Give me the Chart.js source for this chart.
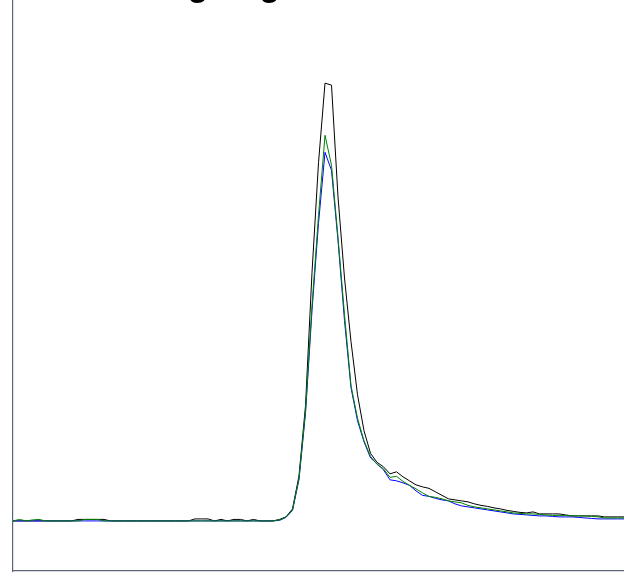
<!DOCTYPE html>
<html>
<head>
<meta charset="utf-8">
<script src="https://cdn.jsdelivr.net/npm/chart.js@4"></script>
<style>
	html, body { margin:0; padding:0; background:#fff; overflow:hidden; }
	#wrap { width:624px; height:574px; position:relative; }
</style>
</head>
<body>
<div id="wrap"><canvas id="grafica"></canvas></div>
<script>
	let titulo = "Log Log Plot";

	let muestras = [];
	for(var i = 0; i < 95; i++) muestras.push(i);

	let serieNegra = [
		0, 0, 0, 0, 0, 0, 0, 0, 0, 0,
		0.3, 0.3, 0.3, 0.3, 0.3, 0, 0, 0, 0, 0,
		0, 0, 0, 0, 0, 0, 0, 0, 0.4, 0.4,
		0.4, 0, 0.3, 0, 0.3, 0.3, 0, 0.3, 0, 0,
		0, 0.3, 0.8, 2.4, 9, 23, 49.6, 71.5, 87.4, 87,
		64.7, 48.5, 35.8, 25.2, 18, 13.5, 11.7, 10.8, 9.4, 9.8,
		8.8, 8, 7.2, 6.8, 6.5, 5.8, 5.1, 4.4, 4.2, 4,
		3.8, 3.4, 3.1, 2.9, 2.6, 2.4, 2.1, 1.9, 1.7, 1.6,
		1.8, 1.4, 1.4, 1.4, 1.4, 1.2, 1, 1, 1, 1,
		1, 0.8, 0.8, 0.8, 0.8
	];

	let serieVerde = [
		0, 0.3, 0, 0.2, 0.3, 0, 0, 0, 0, 0,
		0, 0.3, 0.3, 0.3, 0, 0, 0, 0, 0, 0,
		0, 0, 0, 0, 0, 0, 0, 0, 0, 0,
		0, 0, 0, 0, 0, 0, 0, 0, 0, 0,
		0, 0.2, 0.8, 2.2, 8.5, 22, 43, 61, 77, 71,
		56.6, 41.2, 27, 20.5, 16, 12.9, 11.3, 10.4, 8.7, 8.9,
		7.9, 7.1, 6.4, 5.6, 4.9, 4.7, 4.4, 4, 3.8, 3.6,
		3.1, 2.8, 2.6, 2.4, 2.2, 2, 1.8, 1.6, 1.5, 1.4,
		1.4, 1.3, 1.2, 1.1, 1.1, 1.1, 1, 1, 1, 0.9,
		0.8, 0.6, 0.6, 0.6, 0.6
	];

	let serieAzul = [
		0, 0, 0, 0, 0, 0, 0, 0, 0, 0,
		0, 0, 0, 0, 0, 0, 0, 0, 0, 0,
		0, 0, 0, 0, 0, 0, 0, 0, 0, 0,
		0, 0, 0, 0, 0, 0, 0, 0, 0, 0,
		0, 0.1, 0.7, 2.1, 8.3, 21.5, 42, 59.4, 73.6, 70,
		56, 40, 26.6, 20, 15.8, 12.6, 11.4, 10.2, 8.2, 8,
		7.6, 7.1, 6, 5.1, 4.9, 4.5, 4.2, 4, 3.4, 3,
		2.8, 2.6, 2.4, 2.2, 2, 1.8, 1.6, 1.4, 1.3, 1.2,
		1.1, 1, 1, 0.9, 0.8, 0.8, 0.8, 0.7, 0.6, 0.5,
		0.4, 0.4, 0.4, 0.4, 0.4
	];

	// titulo cortado arriba, solo se ven las colas de las "g"
	let pluginTitulo = {
		id: "tituloCortado",
		afterDraw: function(chart){
			let ctx = chart.ctx;
			ctx.save();
			ctx.font = "bold 34px 'Liberation Sans'";
			let wLo = ctx.measureText("Lo").width;
			let wG = ctx.measureText("g").width;
			ctx.fillStyle = "#000";
			ctx.textAlign = "left";
			ctx.textBaseline = "alphabetic";
			ctx.fillText(titulo, 198 - wLo - wG / 2, -4);
			ctx.restore();
		}
	};

	getGraphic();

	function getGraphic(){
		new Chart(document.getElementById("grafica"), {
			type: "line",
			data: {
				labels: muestras,
				datasets: [
					{ label: "verde", data: serieVerde, borderColor: "#008000", borderWidth: 1 },
					{ label: "azul", data: serieAzul, borderColor: "#0000ff", borderWidth: 1 },
					{ label: "negra", data: serieNegra, borderColor: "#000000", borderWidth: 1 }
				]
			},
			options: {
				responsive: true,
				maintainAspectRatio: false,
				animation: false,
				layout: { padding: { left: 13, right: 0, top: 0, bottom: 3 } },
				elements: {
					line: { tension: 0, fill: false },
					point: { radius: 0, hoverRadius: 0 }
				},
				plugins: {
					legend: { display: false },
					tooltip: { enabled: false },
					title: { display: false }
				},
				scales: {
					x: {
						type: "category",
						offset: false,
						grid: { display: false, drawTicks: false },
						ticks: { display: false, padding: 0 },
						border: { display: true, color: "#5c6674", width: 1.2 }
					},
					y: {
						min: -10,
						max: 104,
						grid: { display: false, drawTicks: false },
						ticks: { display: false, padding: 0 },
						border: { display: true, color: "#5c6674", width: 1.2 }
					}
				}
			},
			plugins: [ pluginTitulo ]
		});
	}
</script>
</body>
</html>
